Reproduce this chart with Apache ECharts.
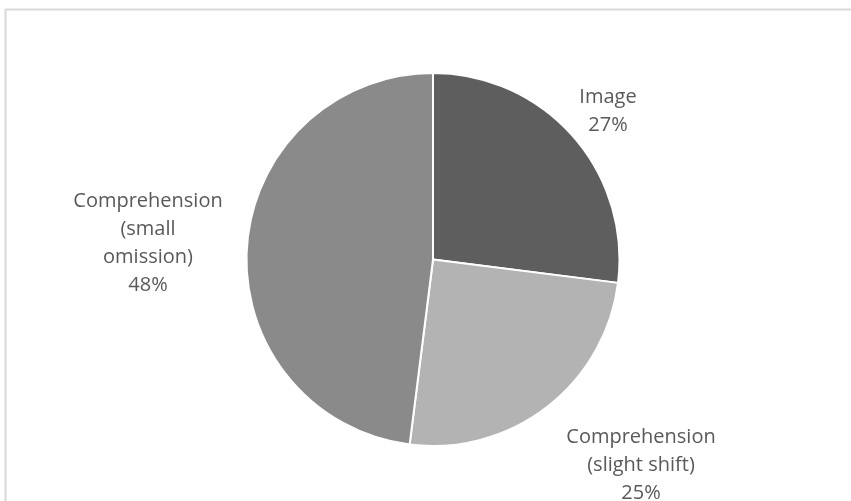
<!DOCTYPE html>
<html>
<head>
<meta charset="utf-8">
<script src="https://cdn.jsdelivr.net/npm/echarts@6/dist/echarts.min.js"></script>
<style>
  html, body { margin: 0; padding: 0; background: #fff; }
  #chart { width: 851px; height: 501px; }
</style>
</head>
<body>
<div id="chart"></div>
<script>
// Error categories and their shares (percent)
const categories = ['Image', 'Comprehension\n(slight shift)', 'Comprehension\n(small\nomission)'];
const shares = [27, 25, 48];
const sliceColors = ['#5e5e5e', '#b3b3b3', '#8a8a8a'];

// Where each label block sits (centre of the text block)
const labelSpots = [
  { x: 608, y: 111 },
  { x: 641, y: 465 },
  { x: 148, y: 243 }
];

const chart = echarts.init(document.getElementById('chart'), null, { renderer: 'canvas' });

chart.setOption({
  backgroundColor: '#ffffff',
  animation: false,
  graphic: [{
    type: 'rect',
    shape: { x: 5.5, y: 9.5, width: 1000, height: 1000 },
    style: { fill: 'none', stroke: '#d9d9d9', lineWidth: 2 },
    silent: true
  }],
  series: [{
    type: 'pie',
    center: [433, 259.5],
    radius: [0, 186.5],
    startAngle: 90,
    clockwise: true,
    itemStyle: { borderColor: '#ffffff', borderWidth: 2 },
    label: {
      show: true,
      position: 'outside',
      formatter: p => p.name + '\n' + p.value + '%',
      fontFamily: 'Open Sans',
      fontSize: 20,
      lineHeight: 28,
      color: '#595959',
      align: 'center'
    },
    labelLine: { show: false },
    labelLayout: params => {
      const s = labelSpots[params.dataIndex];
      return { x: s.x, y: s.y, align: 'center', verticalAlign: 'middle' };
    },
    data: categories.map((c, i) => ({
      name: c,
      value: shares[i],
      itemStyle: { color: sliceColors[i] }
    }))
  }]
});
</script>
</body>
</html>
